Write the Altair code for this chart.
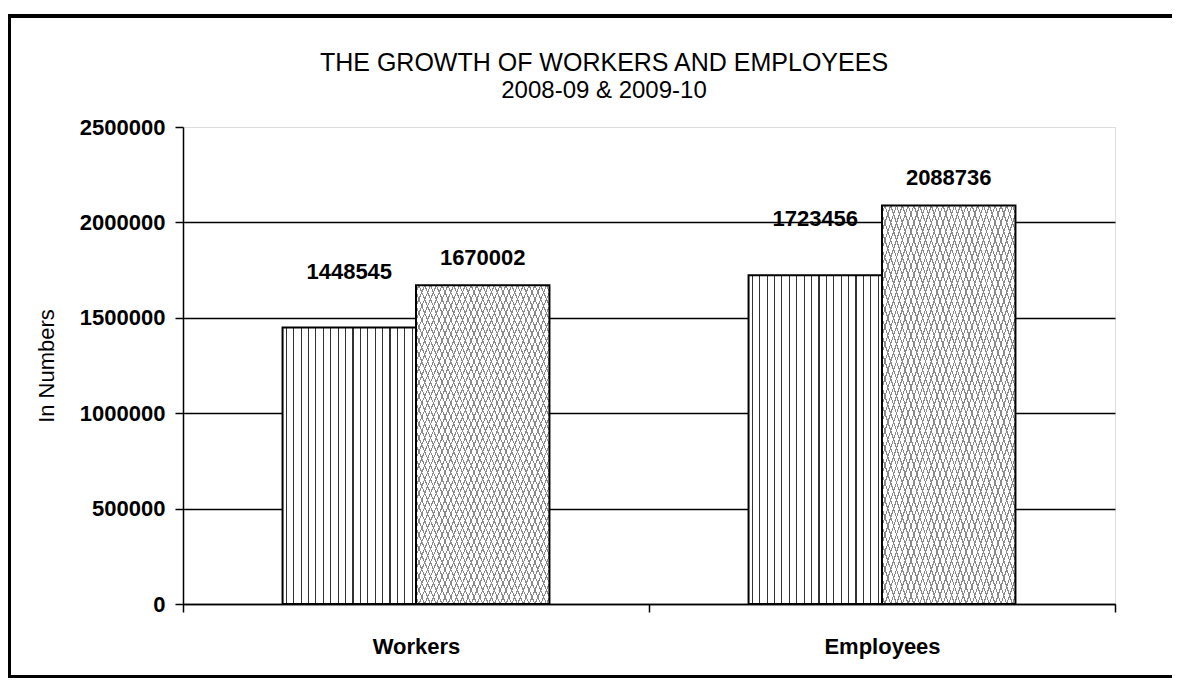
import altair as alt
import pandas as pd

categories = ["Workers", "Employees"]
series = ["2008-09", "2009-10"]
values_2008_09 = [1448545, 1723456]
values_2009_10 = [1670002, 2088736]
y_ticks = [0, 500000, 1000000, 1500000, 2000000, 2500000]

rows = []
for i, c in enumerate(categories):
    rows.append({"category": c, "series": series[0], "value": values_2008_09[i], "label": str(values_2008_09[i])})
    rows.append({"category": c, "series": series[1], "value": values_2009_10[i], "label": str(values_2009_10[i])})
df = pd.DataFrame(rows)

FONT = "Liberation Sans"


def stripes(n, color, frac, bg, x1, y1, x2, y2):
    stops = [{"offset": 0, "color": bg}]
    h = frac / n / 2
    for k in range(n):
        c = (k + 0.5) / n
        stops += [
            {"offset": round(c - h, 5), "color": bg},
            {"offset": round(c - h, 5), "color": color},
            {"offset": round(c + h, 5), "color": color},
            {"offset": round(c + h, 5), "color": bg},
        ]
    stops.append({"offset": 1, "color": bg})
    return {"gradient": "linear", "x1": x1, "y1": y1, "x2": x2, "y2": y2, "stops": stops}


vlines = stripes(18, "#333333", 0.15, "#ffffff", 0, 0, 1, 0)
diag_a = stripes(46, "#8a8a8a", 0.2, "#ffffff", 0, 0, 1, 1)
diag_b = stripes(46, "#8a8a8a", 0.2, "rgba(255,255,255,0)", 1, 0, 0, 1)

x_enc = alt.X(
    "category:N",
    sort=categories,
    scale=alt.Scale(paddingInner=0, paddingOuter=0),
    axis=alt.Axis(
        title=None,
        labelAngle=0,
        labelFont=FONT,
        labelFontSize=22,
        labelFontWeight="bold",
        labelColor="black",
        labelPadding=24,
        tickBand="extent",
        tickSize=8,
        tickColor="black",
        tickWidth=1.5,
        domainColor="black",
        domainWidth=1.5,
        grid=False,
    ),
)
xo_enc = alt.XOffset(
    "series:N",
    scale=alt.Scale(domain=series, paddingInner=0, paddingOuter=0.746),
)
y_enc = alt.Y(
    "value:Q",
    scale=alt.Scale(domain=[0, 2500000], nice=False),
    axis=alt.Axis(
        values=y_ticks,
        format="d",
        title="In Numbers",
        titleFont=FONT,
        titleFontSize=22,
        titleFontWeight="normal",
        titleColor="black",
        titlePadding=21,
        labelFont=FONT,
        labelFontSize=22,
        labelFontWeight="bold",
        labelColor="black",
        labelPadding=10,
        tickSize=8,
        tickColor="black",
        tickWidth=1.5,
        domainColor="black",
        domainWidth=1.5,
        grid=True,
        gridColor={"condition": {"test": "datum.value == 2500000", "value": "transparent"}, "value": "black"},
        gridWidth=1.5,
    ),
)

base = alt.Chart(df).encode(x=x_enc, xOffset=xo_enc, y=y_enc)
s1 = base.transform_filter(alt.datum.series == series[0])
s2 = base.transform_filter(alt.datum.series == series[1])

bars1 = s1.mark_bar(fill=vlines, stroke="black", strokeWidth=2)
bars2a = s2.mark_bar(fill=diag_a)
bars2b = s2.mark_bar(fill=diag_b, stroke="black", strokeWidth=2)

text_style = dict(font=FONT, fontSize=22, fontWeight="bold", color="black", baseline="middle")
labels1 = s1.mark_text(dy=-56, **text_style).encode(text="label:N")
labels2 = s2.mark_text(dy=-27, **text_style).encode(text="label:N")

frame = alt.Chart(pd.DataFrame({"a": [0]})).mark_rect(
    fill="transparent", stroke="black", strokeWidth=4, clip=False
).encode(x=alt.value(-174), x2=alt.value(1000), y=alt.value(-111), y2=alt.value(550))

chart = (
    alt.layer(bars1, bars2a, bars2b, labels1, labels2, frame)
    .properties(
        width=932,
        height=477,
        autosize=alt.AutoSizeParams(type="none"),
        padding={"left": 175, "top": 119, "right": 57, "bottom": 74},
        title=alt.TitleParams(
            text="THE GROWTH OF WORKERS AND EMPLOYEES",
            subtitle="2008-09 & 2009-10",
            font=FONT,
            subtitleFont=FONT,
            fontSize=25,
            subtitleFontSize=24,
            fontWeight="normal",
            color="black",
            subtitleColor="black",
            anchor="middle",
            dx=-45,
            offset=-89,
            subtitlePadding=3,
        ),
    )
    .configure_view(stroke="#888888", strokeDash=[1, 2], strokeWidth=1)
    .configure(background="white")
)

chart.save("out.html", embed_options={"renderer": "svg", "actions": False})
